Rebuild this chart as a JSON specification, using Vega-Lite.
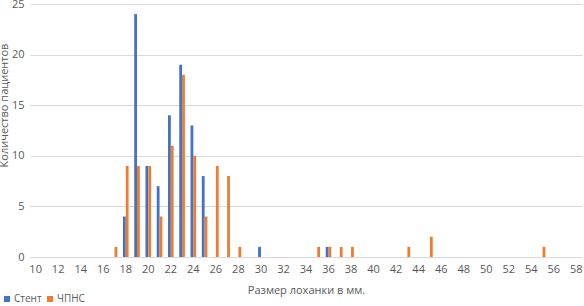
{
  "$schema": "https://vega.github.io/schema/vega-lite/v6.json",
  "width": 552,
  "height": 253,
  "autosize": {"type": "none"},
  "padding": {"left": 30, "top": 4, "right": 2, "bottom": 49},
  "background": "white",
  "config": {
    "view": {"stroke": null},
    "font": "Open Sans",
    "axis": {"labelColor": "#595959", "titleColor": "#595959", "labelFontSize": 11, "titleFontSize": 11, "titleFontWeight": "normal", "gridColor": "#D9D9D9", "ticks": false}
  },
  "data": {
    "values": [
      {"size": 18, "group": "Стент", "count": 4},
      {"size": 19, "group": "Стент", "count": 24},
      {"size": 20, "group": "Стент", "count": 9},
      {"size": 21, "group": "Стент", "count": 7},
      {"size": 22, "group": "Стент", "count": 14},
      {"size": 23, "group": "Стент", "count": 19},
      {"size": 24, "group": "Стент", "count": 13},
      {"size": 25, "group": "Стент", "count": 8},
      {"size": 30, "group": "Стент", "count": 1},
      {"size": 36, "group": "Стент", "count": 1},
      {"size": 17, "group": "ЧПНС", "count": 1},
      {"size": 18, "group": "ЧПНС", "count": 9},
      {"size": 19, "group": "ЧПНС", "count": 9},
      {"size": 20, "group": "ЧПНС", "count": 9},
      {"size": 21, "group": "ЧПНС", "count": 4},
      {"size": 22, "group": "ЧПНС", "count": 11},
      {"size": 23, "group": "ЧПНС", "count": 18},
      {"size": 24, "group": "ЧПНС", "count": 10},
      {"size": 25, "group": "ЧПНС", "count": 4},
      {"size": 26, "group": "ЧПНС", "count": 9},
      {"size": 27, "group": "ЧПНС", "count": 8},
      {"size": 28, "group": "ЧПНС", "count": 1},
      {"size": 35, "group": "ЧПНС", "count": 1},
      {"size": 36, "group": "ЧПНС", "count": 1},
      {"size": 37, "group": "ЧПНС", "count": 1},
      {"size": 38, "group": "ЧПНС", "count": 1},
      {"size": 43, "group": "ЧПНС", "count": 1},
      {"size": 45, "group": "ЧПНС", "count": 2},
      {"size": 55, "group": "ЧПНС", "count": 1}
    ]
  },
  "mark": {"type": "bar"},
  "encoding": {
    "x": {
      "field": "size",
      "type": "ordinal",
      "scale": {
        "domain": [10,11,12,13,14,15,16,17,18,19,20,21,22,23,24,25,26,27,28,29,30,31,32,33,34,35,36,37,38,39,40,41,42,43,44,45,46,47,48,49,50,51,52,53,54,55,56,57,58],
        "paddingInner": 0.5,
        "paddingOuter": 0.25
      },
      "axis": {
        "title": "Размер лоханки в мм.",
        "labelAngle": 0,
        "labelExpr": "datum.value % 2 == 0 ? datum.label : ''",
        "labelPadding": 6,
        "titlePadding": 10,
        "domainColor": "#D9D9D9",
        "grid": false
      }
    },
    "xOffset": {"field": "group", "type": "nominal", "scale": {"domain": ["Стент", "ЧПНС"]}},
    "y": {
      "field": "count",
      "type": "quantitative",
      "scale": {"domain": [0, 25]},
      "axis": {
        "title": "Количество пациентов",
        "values": [0, 5, 10, 15, 20, 25],
        "domain": false,
        "labelPadding": 6,
        "titlePadding": 2,
        "titleY": 101
      }
    },
    "color": {
      "field": "group",
      "type": "nominal",
      "scale": {"domain": ["Стент", "ЧПНС"], "range": ["#4472C4", "#ED7D31"]},
      "legend": {
        "title": null,
        "orient": "none",
        "legendX": -28,
        "legendY": 290,
        "direction": "horizontal",
        "symbolType": "square",
        "symbolSize": 36,
        "labelFontSize": 10,
        "labelColor": "#595959",
        "columnPadding": 3,
        "labelOffset": 2
      }
    }
  }
}
